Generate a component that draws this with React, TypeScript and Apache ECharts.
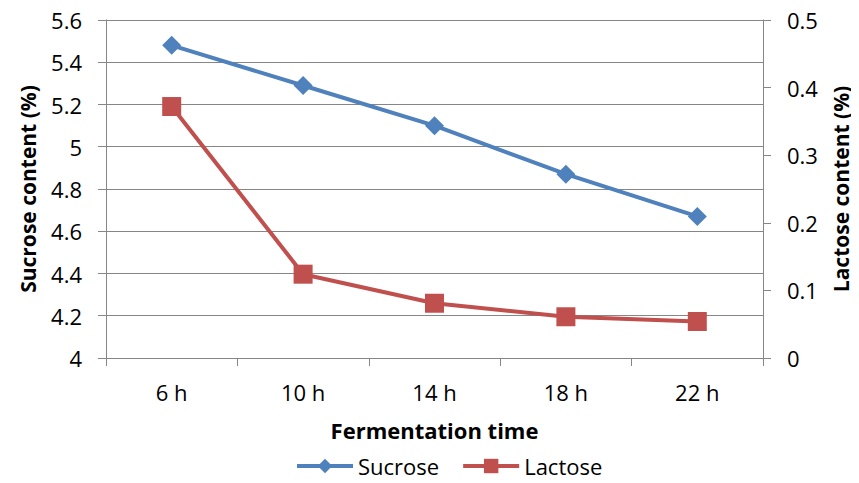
import React, { useEffect, useRef } from "react";
import * as echarts from "echarts";

const categories = ["6 h", "10 h", "14 h", "18 h", "22 h"];
const sucrose = [5.48, 5.29, 5.1, 4.87, 4.67];
const lactose = [0.372, 0.124, 0.081, 0.061, 0.054];

const FONT = "'Open Sans', Lato, sans-serif";
const AXIS = "#868686";
const BLUE = "#4F81BD";
const RED = "#C0504D";
const FS = 22;
const TFS = 21;

export default function App() {
  const ref = useRef<HTMLDivElement>(null);
  useEffect(() => {
    if (!ref.current) return;
    const chart = echarts.init(ref.current, undefined, { renderer: "svg" });
    chart.setOption({
      animation: false,
      textStyle: { fontFamily: FONT, color: "#000" },
      grid: { left: 106, right: 96, top: 20, bottom: 125, outerBoundsMode: "none", containLabel: false },
      legend: {
        top: 450,
        left: 290,
        itemWidth: 56,
        itemHeight: 18,
        itemGap: 22,
        lineStyle: { width: 4 },
        textStyle: { fontSize: FS, fontFamily: FONT, color: "#000" },
        data: ["Sucrose", "Lactose"],
      },
      xAxis: {
        type: "category",
        data: categories,
        boundaryGap: true,
        name: "Fermentation time",
        nameLocation: "middle",
        nameGap: 61,
        nameTextStyle: { fontSize: FS, fontWeight: "bold", fontFamily: FONT, color: "#000" },
        axisLine: { lineStyle: { color: AXIS, width: 1 } },
        axisTick: { show: true, length: 8, lineStyle: { color: AXIS } },
        axisLabel: { fontSize: FS, margin: 23, color: "#000", fontFamily: FONT },
        splitLine: { show: false },
      },
      yAxis: [
        {
          type: "value",
          min: 4,
          max: 5.6,
          interval: 0.2,
          name: "Sucrose content (%)",
          nameLocation: "middle",
          nameGap: 68,
          nameTextStyle: { fontSize: TFS, fontWeight: "bold", fontFamily: FONT, color: "#000" },
          axisLine: { show: true, lineStyle: { color: AXIS } },
          axisTick: { show: true, length: 8, lineStyle: { color: AXIS } },
          axisLabel: {
            fontSize: FS,
            margin: 24,
            color: "#000",
            fontFamily: FONT,
            formatter: (v: number) => String(parseFloat(v.toFixed(1))),
          },
          splitLine: { show: true, lineStyle: { color: AXIS, width: 1 } },
        },
        {
          type: "value",
          min: 0,
          max: 0.5,
          interval: 0.1,
          position: "right",
          name: "Lactose content (%)",
          nameLocation: "middle",
          nameGap: 67,
          nameTextStyle: { fontSize: TFS, fontWeight: "bold", fontFamily: FONT, color: "#000" },
          axisLine: { show: true, lineStyle: { color: AXIS } },
          axisTick: { show: true, length: 8, lineStyle: { color: AXIS } },
          axisLabel: {
            fontSize: FS,
            margin: 24,
            color: "#000",
            fontFamily: FONT,
            formatter: (v: number) => String(parseFloat(v.toFixed(1))),
          },
          splitLine: { show: false },
        },
      ],
      series: [
        {
          name: "Sucrose",
          type: "line",
          yAxisIndex: 0,
          data: sucrose,
          symbol: "diamond",
          symbolSize: 19,
          lineStyle: { color: BLUE, width: 4 },
          itemStyle: { color: BLUE },
        },
        {
          name: "Lactose",
          type: "line",
          yAxisIndex: 1,
          data: lactose,
          symbol: "rect",
          symbolSize: 19,
          lineStyle: { color: RED, width: 4 },
          itemStyle: { color: RED },
        },
      ],
    });
    return () => chart.dispose();
  }, []);
  return <div ref={ref} style={{ width: 859, height: 483, margin: -8 }} />;
}
